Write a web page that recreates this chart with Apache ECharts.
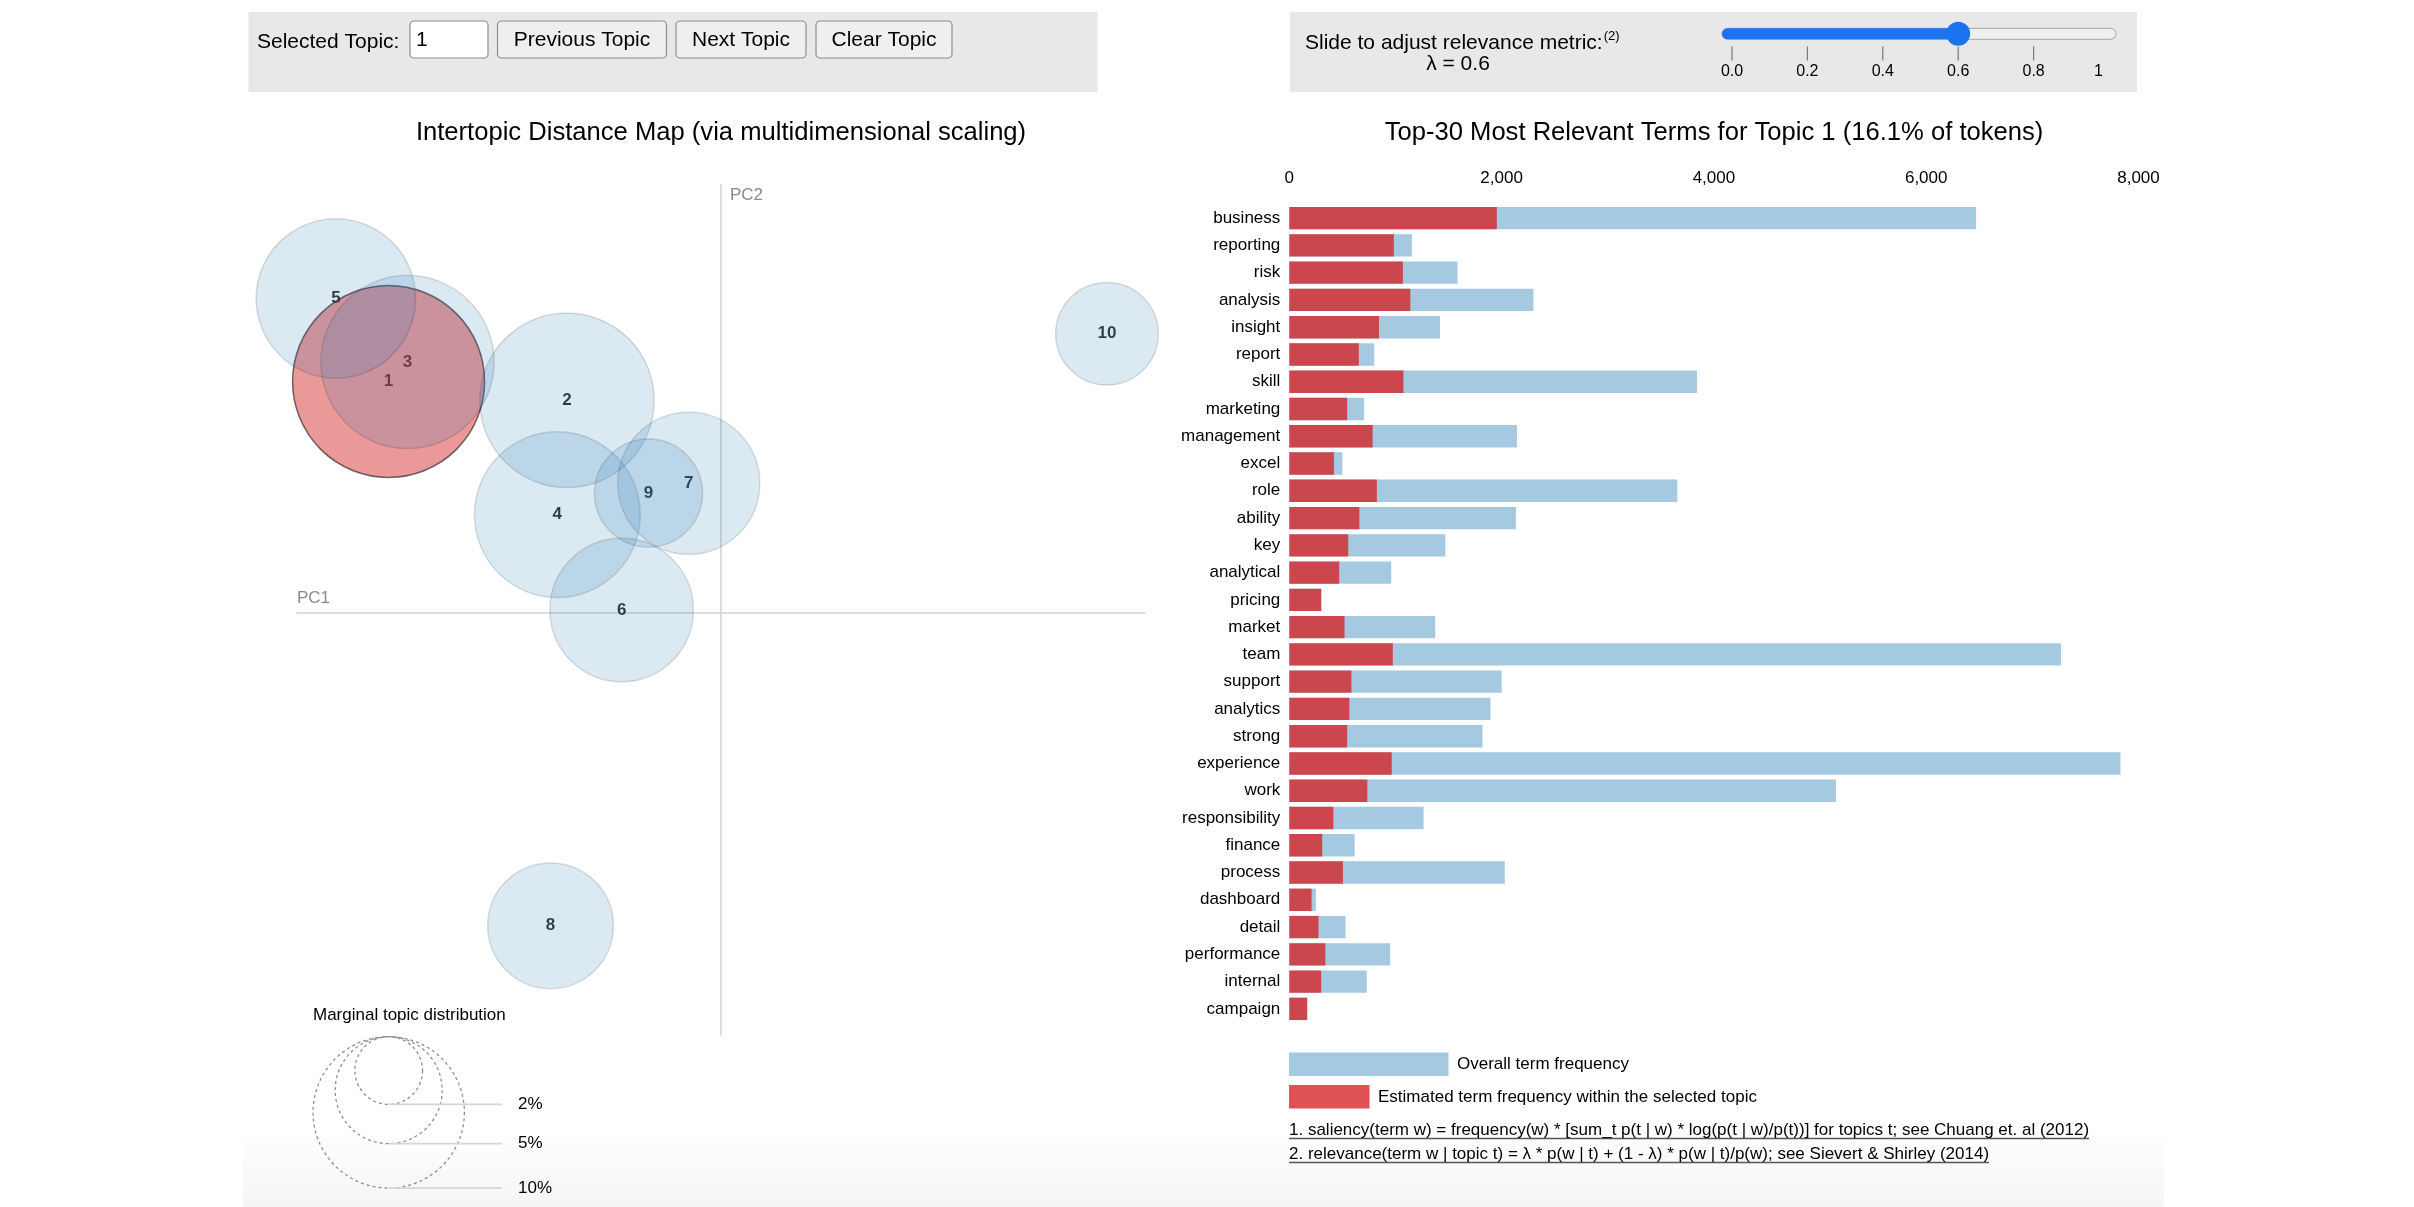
<!DOCTYPE html>
<html><head><meta charset="utf-8">
<script src="https://cdn.jsdelivr.net/npm/echarts@6/dist/echarts.min.js"></script>
<style>html,body{margin:0;padding:0;background:#fff}#c{width:2414px;height:1207px}</style>
</head><body><div id="c"></div>
<script>
const FONT = '"Liberation Sans", Arial, Helvetica, sans-serif';

// ---- Intertopic distance map data ----
const topicIds   = ['1','2','3','4','5','6','7','8','9','10'];
const topicPC1   = [-0.2352,-0.1090,-0.2218,-0.1158,-0.2725,-0.0703,-0.0228,-0.1206,-0.0513,0.2731];
const topicPC2   = [0.1633,0.1500,0.1771,0.0693,0.2219,0.0020,0.0914,-0.2209,0.0845,0.1970];
const topicShare = [16.1,13.3,13.1,12.0,11.1,9.0,8.8,6.9,5.1,4.6];
const selectedTopic = 1;
const marginalLegend = [2,5,10];

// ---- Term bar chart data ----
const terms = ['business','reporting','risk','analysis','insight','report','skill','marketing','management','excel','role','ability','key','analytical','pricing','market','team','support','analytics','strong','experience','work','responsibility','finance','process','dashboard','detail','performance','internal','campaign'];
const overallFreq = [6470,1155,1585,2300,1420,800,3840,705,2145,500,3655,2135,1470,960,302,1375,7270,2000,1895,1820,7830,5150,1265,615,2030,250,530,950,730,170];
const topicFreq   = [1955,985,1070,1140,845,655,1075,545,785,420,825,660,555,470,300,520,975,585,565,545,965,735,415,310,505,210,275,340,300,168];
const freqTicks = [0,2000,4000,6000,8000];

// ---- Controls ----
const lambdaTicks = ['0.0','0.2','0.4','0.6','0.8','1'];
const lambdaValue = 0.6;

const R100 = 239.3; // radius (px) corresponding to 100% of tokens
const radiusOf = p => R100 * Math.sqrt(p / 100);

const mctx = document.createElement('canvas').getContext('2d');
function textW(t, size) { mctx.font = size + 'px ' + FONT; return mctx.measureText(t).width; }

function txt(x, y, text, size, opts) {
  opts = opts || {};
  return {
    type: 'text', x: x, y: y, z: 100, silent: true,
    style: {
      text: text, font: (opts.weight || 'normal') + ' ' + size + 'px ' + FONT,
      fill: opts.fill || '#000',
      align: opts.align || 'left', textAlign: opts.align || 'left',
      verticalAlign: 'middle', textVerticalAlign: 'middle'
    }
  };
}
function rect(x, y, w, h, fill, stroke, r, lw) {
  return { type: 'rect', z: 90, silent: true, shape: { x: x, y: y, width: w, height: h, r: r || 0 },
    style: { fill: fill, stroke: stroke || null, lineWidth: lw || 1 } };
}
function line(x1, y1, x2, y2, stroke, lw, dash) {
  return { type: 'line', z: 90, silent: true, shape: { x1: x1, y1: y1, x2: x2, y2: y2 },
    style: { stroke: stroke, lineWidth: lw || 1, lineDash: dash || null } };
}

const graphics = [];
// bottom faint gradient
graphics.push({ type: 'rect', z: 0, silent: true, shape: { x: 243, y: 1130, width: 1921, height: 77 },
  style: { fill: new echarts.graphic.LinearGradient(0, 0, 0, 1, [{ offset: 0, color: 'rgba(245,245,245,0)' }, { offset: 1, color: 'rgba(245,245,245,1)' }]) } });

// left control panel
graphics.push(rect(248.5, 12, 849, 80, '#e8e8e8'));
graphics.push(txt(257, 42, 'Selected Topic:', 21));
graphics.push(rect(410, 21, 78, 37, '#ffffff', '#8d8d8d', 4, 1.2));
graphics.push(txt(416, 40, String(selectedTopic), 21));
[['Previous Topic', 497.5, 169], ['Next Topic', 676, 130], ['Clear Topic', 816, 136]].forEach(b => {
  graphics.push(rect(b[1], 21, b[2], 37, '#efefef', '#8d8d8d', 4, 1.2));
  graphics.push(txt(b[1] + b[2] / 2, 40, b[0], 21, { align: 'center' }));
});

// right control panel
graphics.push(rect(1290, 12, 847, 80, '#e8e8e8'));
const slideText = 'Slide to adjust relevance metric:';
graphics.push(txt(1305, 43, slideText, 21));
graphics.push(txt(1305 + textW(slideText, 21) + 1, 36, '(2)', 13));
graphics.push(txt(1458, 64, '\u03bb = ' + lambdaValue, 21, { align: 'center' }));
const sx0 = 1732, sStep = 377; // px per unit lambda
const thumbX = sx0 + lambdaValue * sStep;
graphics.push(rect(1722, 28.3, 394, 11, '#efefef', '#b3b3b3', 5.5, 1.2));
graphics.push(rect(1722, 28.3, thumbX - 1722, 11, '#1a73f0', null, 5.5));
graphics.push({ type: 'circle', z: 95, silent: true, shape: { cx: thumbX, cy: 33.8, r: 12 }, style: { fill: '#1a73f0' } });
lambdaTicks.forEach((t, i) => {
  const x = i < 5 ? sx0 + i * 0.2 * sStep : 2098.5;
  if (i < 5) graphics.push(line(x, 46.5, x, 60.5, '#7a7a7a', 1.2));
  graphics.push(txt(x, 72, t, 16, { align: 'center' }));
});

// titles
graphics.push(txt(721, 133, 'Intertopic Distance Map (via multidimensional scaling)', 25.6, { align: 'center' }));
graphics.push(txt(1714, 133, 'Top-30 Most Relevant Terms for Topic ' + selectedTopic + ' (' + topicShare[selectedTopic - 1] + '% of tokens)', 25.6, { align: 'center' }));

// PC labels
graphics.push(txt(730, 195, 'PC2', 17, { fill: '#8a8a8a' }));
graphics.push(txt(297, 598, 'PC1', 17, { fill: '#8a8a8a' }));

// marginal topic distribution legend
graphics.push(txt(313, 1015, 'Marginal topic distribution', 17));
const legCx = 388.7, legTop = 1036.7;
marginalLegend.slice().reverse().forEach(p => {
  const r = radiusOf(p);
  graphics.push({ type: 'circle', z: 90, silent: true, shape: { cx: legCx, cy: legTop + r, r: r },
    style: { fill: null, stroke: '#8e8e8e', lineWidth: 1.3, lineDash: [3, 3] } });
});
marginalLegend.forEach(p => {
  const yb = legTop + 2 * radiusOf(p);
  graphics.push(line(legCx, yb, 502, yb, '#d6d6d6', 1.8));
  graphics.push(txt(518, yb, p + '%', 17));
});

// bar legend
graphics.push(rect(1289, 1052.5, 159.5, 23.5, 'rgba(31,119,180,0.4)'));
graphics.push(txt(1457, 1064, 'Overall term frequency', 17));
graphics.push(rect(1289, 1085, 80.5, 23.5, 'rgba(214,39,40,0.8)'));
graphics.push(txt(1378, 1097, 'Estimated term frequency within the selected topic', 17));
const fn1 = '1. saliency(term w) = frequency(w) * [sum_t p(t | w) * log(p(t | w)/p(t))] for topics t; see Chuang et. al (2012)';
const fn2 = '2. relevance(term w | topic t) = \u03bb * p(w | t) + (1 - \u03bb) * p(w | t)/p(w); see Sievert & Shirley (2014)';
[[fn1, 1130], [fn2, 1154]].forEach(f => {
  graphics.push(txt(1289, f[1], f[0], 17));
  graphics.push(line(1289, f[1] + 8.5, 1289 + textW(f[0], 17), f[1] + 8.5, '#555', 1.5));
});

const circleData = topicPC1.map((x, i) => ({
  value: [x, topicPC2[i], topicShare[i]],
  itemStyle: i === selectedTopic - 1
    ? { color: 'rgba(214,39,40,0.6)', borderColor: 'rgba(20,20,30,0.75)', borderWidth: 1.5 }
    : { color: 'rgba(31,119,180,0.2)', borderColor: 'rgba(0,0,0,0.16)', borderWidth: 1.5 }
}));
const labelData = topicPC1.map((x, i) => ({ value: [x, topicPC2[i]], name: topicIds[i] }));

const fmt = v => v.toLocaleString('en-US');

const option = {
  animation: false,
  backgroundColor: '#fff',
  textStyle: { fontFamily: FONT },
  graphic: graphics,
  grid: [
    { left: 297, top: 185, width: 848, height: 850, containLabel: false },
    { left: 1289.3, top: 204.5, width: 849.2, height: 818, containLabel: false }
  ],
  xAxis: [
    { gridIndex: 0, type: 'value', min: -0.3, max: 0.3,
      axisLine: { show: true, onZero: true, lineStyle: { color: '#d4d4d4', width: 1.6 } },
      axisTick: { show: false }, axisLabel: { show: false }, splitLine: { show: false } },
    { gridIndex: 1, type: 'value', position: 'top', min: freqTicks[0], max: freqTicks[freqTicks.length - 1], interval: 2000,
      axisLine: { show: false }, axisTick: { show: false }, splitLine: { show: false },
      axisLabel: { fontSize: 17, color: '#000', margin: 18, fontFamily: FONT, formatter: v => fmt(v) } }
  ],
  yAxis: [
    { gridIndex: 0, type: 'value', min: -0.298, max: 0.302,
      axisLine: { show: true, onZero: true, lineStyle: { color: '#d4d4d4', width: 1.6 } },
      axisTick: { show: false }, axisLabel: { show: false }, splitLine: { show: false } },
    { gridIndex: 1, type: 'category', data: terms, inverse: true,
      axisLine: { show: false }, axisTick: { show: false }, splitLine: { show: false },
      axisLabel: { fontSize: 17, color: '#000', margin: 9, fontFamily: FONT } }
  ],
  series: [
    { type: 'scatter', xAxisIndex: 0, yAxisIndex: 0, data: labelData, symbolSize: 1, z: 2,
      itemStyle: { color: 'rgba(0,0,0,0)' },
      label: { show: true, position: 'inside', formatter: p => p.name, fontSize: 17, fontWeight: 'bold', color: '#000', fontFamily: FONT } },
    { type: 'scatter', xAxisIndex: 0, yAxisIndex: 0, data: circleData, z: 3,
      symbolSize: v => 2 * radiusOf(v[2]) },
    { type: 'bar', xAxisIndex: 1, yAxisIndex: 1, data: overallFreq, barCategoryGap: '18%', barGap: '-100%',
      itemStyle: { color: 'rgba(31,119,180,0.4)' } },
    { type: 'bar', xAxisIndex: 1, yAxisIndex: 1, data: topicFreq, barCategoryGap: '18%', barGap: '-100%',
      itemStyle: { color: 'rgba(214,39,40,0.8)' } }
  ]
};
const chart = echarts.init(document.getElementById('c'), null, { renderer: 'canvas', width: 2414, height: 1207 });
chart.setOption(option);
</script>
</body></html>
